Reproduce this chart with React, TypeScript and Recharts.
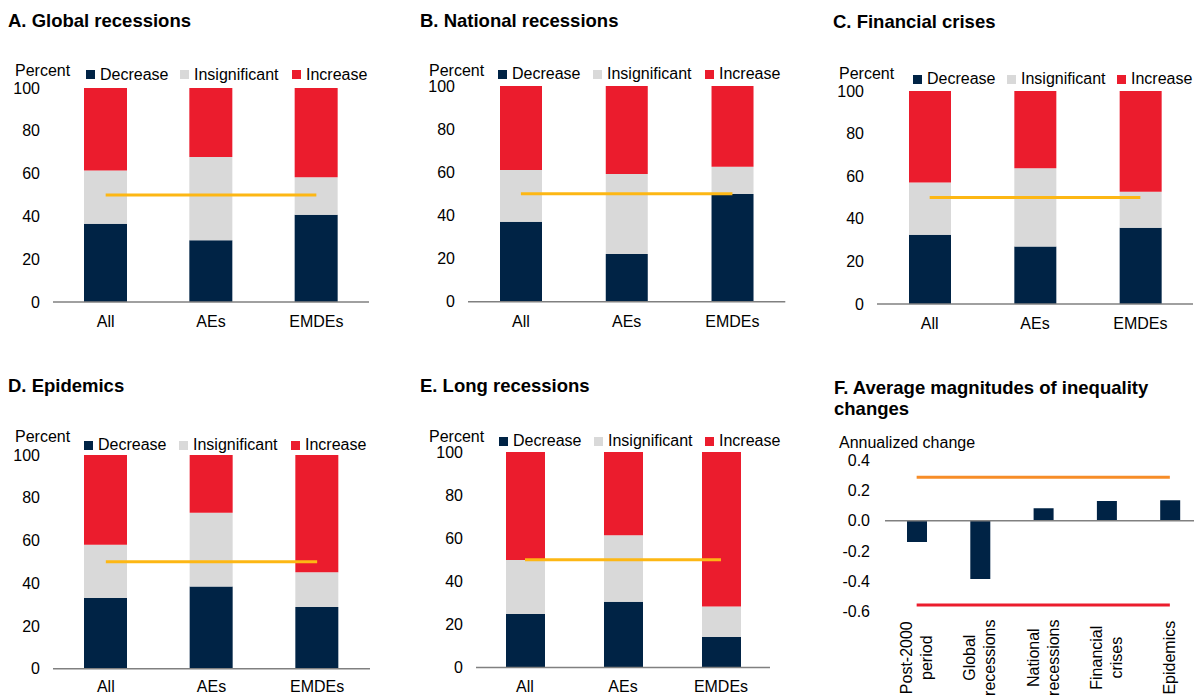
import { Bar, ComposedChart, Line, ReferenceLine, XAxis, YAxis } from "recharts";

const FONT = "Arial, 'Liberation Sans', Helvetica, sans-serif";
const NAVY = "#002345";
const GREY = "#D9D9D9";
const RED = "#EB1C2D";
const YELLOW = "#FDB714";
const ORANGE = "#F78D28";
const AXIS_GREY = "#808080";

const groups = ["All", "AEs", "EMDEs"];
const legendNames = ["Decrease", "Insignificant", "Increase"];
const legendColors = [NAVY, GREY, RED];
const percentTicks = [0, 20, 40, 60, 80, 100];
const threshold = 50;

// A. Global recessions
const globalDecrease = [36.6, 28.8, 40.8];
const globalInsignificant = [24.9, 39.0, 17.5];
const globalIncrease = [38.5, 32.2, 41.7];

// B. National recessions
const nationalDecrease = [37.1, 22.1, 49.9];
const nationalInsignificant = [24.0, 37.1, 12.7];
const nationalIncrease = [38.9, 40.8, 37.4];

// C. Financial crises
const financialDecrease = [32.5, 27.0, 35.8];
const financialInsignificant = [24.6, 36.7, 16.9];
const financialIncrease = [42.9, 36.3, 47.3];

// D. Epidemics
const epidemicDecrease = [33.1, 38.5, 28.9];
const epidemicInsignificant = [24.9, 34.5, 16.2];
const epidemicIncrease = [42.0, 27.0, 54.9];

// E. Long recessions
const longDecrease = [24.8, 30.5, 14.1];
const longInsignificant = [25.1, 30.8, 14.2];
const longIncrease = [50.1, 38.7, 71.7];

// F. Average magnitudes
const magnitudeLabels = [
  "Post-2000\nperiod",
  "Global\nrecessions",
  "National\nrecessions",
  "Financial\ncrises",
  "Epidemics",
];
const magnitudeValues = [-0.14, -0.385, 0.082, 0.13, 0.135];
const upperBand = 0.286;
const lowerBand = -0.556;
const magnitudeTicks = [-0.6, -0.4, -0.2, 0, 0.2, 0.4];

const Y_W = 50;

type Plot = { x0: number; x1: number; y0: number; y1: number };

type StackPanelProps = {
  title: string;
  titleX: number;
  titleY: number;
  unitX: number;
  unitY: number;
  legendXs: number[]; // x where each legend label's text starts
  legendY: number;
  plot: Plot;
  barSize: number;
  tickMargin: number;
  decrease: number[];
  insignificant: number[];
  increase: number[];
};

const StackPanel = ({
  title,
  titleX,
  titleY,
  unitX,
  unitY,
  legendXs,
  legendY,
  plot,
  barSize,
  tickMargin,
  decrease,
  insignificant,
  increase,
}: StackPanelProps) => {
  const left = plot.x0 - Y_W;
  const top = plot.y0 - 20;
  const width = plot.x1 - left + 4;
  const height = plot.y1 - top + 40;

  const data = groups.map((name, i) => ({
    name,
    decrease: decrease[i],
    insignificant: insignificant[i],
    increase: increase[i],
    threshold,
  }));

  return (
    <>
      <div
        style={{
          position: "absolute",
          left: titleX,
          top: titleY - 11,
          fontSize: 18.5,
          fontWeight: 700,
          lineHeight: "22px",
          whiteSpace: "nowrap",
        }}
      >
        {title}
      </div>
      <div
        style={{
          position: "absolute",
          left: unitX,
          top: unitY - 10,
          fontSize: 16,
          lineHeight: "20px",
          whiteSpace: "nowrap",
        }}
      >
        Percent
      </div>
      {legendNames.map((name, i) => (
        <div
          key={name}
          style={{
            position: "absolute",
            left: legendXs[i] - 14,
            top: legendY - 10,
            height: 20,
            display: "flex",
            alignItems: "center",
            fontSize: 16,
            whiteSpace: "nowrap",
          }}
        >
          <span
            style={{
              display: "inline-block",
              width: 9,
              height: 9,
              background: legendColors[i],
              marginRight: 5,
            }}
          />
          {name}
        </div>
      ))}
      <div style={{ position: "absolute", left, top }}>
        <ComposedChart
          width={width}
          height={height}
          data={data}
          margin={{ top: 20, right: 4, bottom: 10, left: 0 }}
        >
          <XAxis
            dataKey="name"
            height={30}
            interval={0}
            tickLine={false}
            axisLine={{ stroke: AXIS_GREY, strokeWidth: 1.5 }}
            tick={{ fontSize: 16, fill: "#000", fontFamily: FONT }}
            tickMargin={tickMargin}
          />
          <YAxis
            width={Y_W}
            type="number"
            domain={[0, 100]}
            ticks={percentTicks}
            allowDataOverflow
            axisLine={false}
            tickLine={false}
            tick={{ fontSize: 16, fill: "#000", fontFamily: FONT }}
            tickMargin={7}
          />
          <Bar dataKey="decrease" stackId="s" fill={NAVY} barSize={barSize} isAnimationActive={false} />
          <Bar dataKey="insignificant" stackId="s" fill={GREY} barSize={barSize} isAnimationActive={false} />
          <Bar dataKey="increase" stackId="s" fill={RED} barSize={barSize} isAnimationActive={false} />
          <Line
            dataKey="threshold"
            stroke={YELLOW}
            strokeWidth={3}
            dot={false}
            activeDot={false}
            isAnimationActive={false}
          />
        </ComposedChart>
      </div>
    </>
  );
};

const MagnitudeTick = (props: any) => {
  const { x, y, payload } = props;
  const lines = String(payload.value).split("\n");
  const cy = y + 40;
  return (
    <g>
      {lines.map((line, i) => {
        const cx = x + (i - (lines.length - 1) / 2) * 20;
        return (
          <text
            key={i}
            x={cx}
            y={cy}
            transform={`rotate(-90 ${cx} ${cy})`}
            textAnchor="middle"
            dominantBaseline="central"
            fontSize={16}
            fill="#000"
            fontFamily={FONT}
          >
            {line}
          </text>
        );
      })}
    </g>
  );
};

const MagnitudePanel = () => {
  const plot = { x0: 884.5, x1: 1201, y0: 460, y1: 611.7 };
  const left = plot.x0 - Y_W;
  const top = plot.y0 - 20;
  const width = plot.x1 - left + 4;
  const height = plot.y1 - top + 90;

  const data = magnitudeLabels.map((name, i) => ({
    name,
    value: magnitudeValues[i],
    upper: upperBand,
    lower: lowerBand,
  }));

  return (
    <>
      <div
        style={{
          position: "absolute",
          left: 834,
          top: 377,
          fontSize: 18.5,
          fontWeight: 700,
          lineHeight: "21px",
          whiteSpace: "nowrap",
        }}
      >
        F. Average magnitudes of inequality
        <br />
        changes
      </div>
      <div
        style={{
          position: "absolute",
          left: 839,
          top: 433,
          fontSize: 16,
          lineHeight: "20px",
          whiteSpace: "nowrap",
        }}
      >
        Annualized change
      </div>
      <div style={{ position: "absolute", left, top }}>
        <ComposedChart
          width={width}
          height={height}
          data={data}
          margin={{ top: 20, right: 4, bottom: 30, left: 0 }}
        >
          <XAxis
            dataKey="name"
            height={60}
            interval={0}
            tickLine={false}
            axisLine={false}
            tickMargin={0}
            tick={<MagnitudeTick />}
          />
          <YAxis
            width={Y_W}
            type="number"
            domain={[-0.6, 0.4]}
            ticks={magnitudeTicks}
            allowDataOverflow
            axisLine={false}
            tickLine={false}
            tickFormatter={(v: number) => v.toFixed(1)}
            tick={{ fontSize: 16, fill: "#000", fontFamily: FONT }}
            tickMargin={9}
          />
          <ReferenceLine y={0} stroke={AXIS_GREY} strokeWidth={1.5} />
          <Bar dataKey="value" fill={NAVY} barSize={20} isAnimationActive={false} />
          <Line dataKey="upper" stroke={ORANGE} strokeWidth={3} dot={false} activeDot={false} isAnimationActive={false} />
          <Line dataKey="lower" stroke={RED} strokeWidth={3} dot={false} activeDot={false} isAnimationActive={false} />
        </ComposedChart>
      </div>
    </>
  );
};

const App = () => {
  return (
    <div
      style={{
        position: "absolute",
        left: 0,
        top: 0,
        width: 1194,
        height: 697,
        overflow: "hidden",
        background: "#fff",
        fontFamily: FONT,
        color: "#000",
      }}
    >
      <StackPanel
        title="A. Global recessions"
        titleX={8}
        titleY={21}
        unitX={15}
        unitY={71}
        legendXs={[100, 194, 306]}
        legendY={74.5}
        plot={{ x0: 53, x1: 369, y0: 87.7, y1: 301.7 }}
        barSize={43}
        tickMargin={8}
        decrease={globalDecrease}
        insignificant={globalInsignificant}
        increase={globalIncrease}
      />
      <StackPanel
        title="B. National recessions"
        titleX={420}
        titleY={21}
        unitX={429}
        unitY={71}
        legendXs={[512, 607, 719]}
        legendY={74.3}
        plot={{ x0: 467.7, x1: 785, y0: 86, y1: 301.7 }}
        barSize={42}
        tickMargin={8}
        decrease={nationalDecrease}
        insignificant={nationalInsignificant}
        increase={nationalIncrease}
      />
      <StackPanel
        title="C. Financial crises"
        titleX={833}
        titleY={22}
        unitX={839}
        unitY={74}
        legendXs={[927, 1021, 1131]}
        legendY={79}
        plot={{ x0: 877, x1: 1193, y0: 91.3, y1: 304.3 }}
        barSize={42}
        tickMargin={8}
        decrease={financialDecrease}
        insignificant={financialInsignificant}
        increase={financialIncrease}
      />
      <StackPanel
        title="D. Epidemics"
        titleX={8}
        titleY={386}
        unitX={15}
        unitY={437}
        legendXs={[98, 193, 305]}
        legendY={445}
        plot={{ x0: 53, x1: 370, y0: 455.3, y1: 669 }}
        barSize={43}
        tickMargin={6}
        decrease={epidemicDecrease}
        insignificant={epidemicInsignificant}
        increase={epidemicIncrease}
      />
      <StackPanel
        title="E. Long recessions"
        titleX={420}
        titleY={386}
        unitX={429}
        unitY={437}
        legendXs={[513, 608, 719]}
        legendY={441}
        plot={{ x0: 476, x1: 770, y0: 452.3, y1: 667.7 }}
        barSize={39}
        tickMargin={7}
        decrease={longDecrease}
        insignificant={longInsignificant}
        increase={longIncrease}
      />
      <MagnitudePanel />
    </div>
  );
};

export default App;
